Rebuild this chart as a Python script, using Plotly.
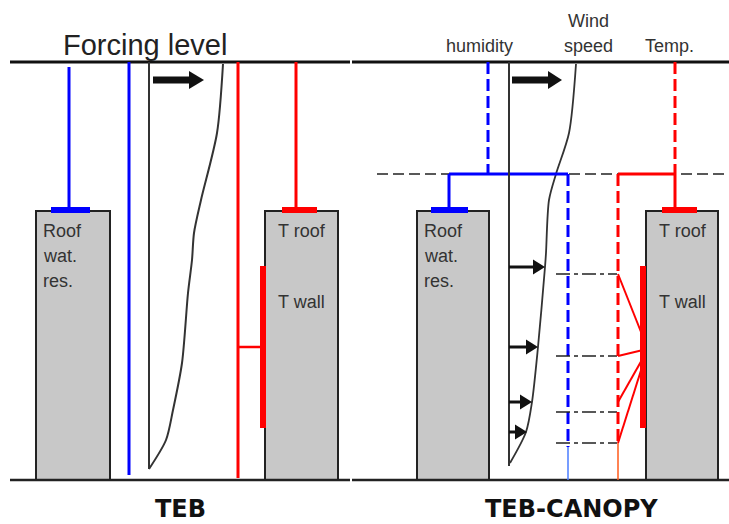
import plotly.graph_objects as go

W, H = 729, 524

# ---- data (diagram coordinates, px from top-left) ----
teb_wind_y = [64, 133, 200, 233, 260, 293, 363, 410, 440, 469]
teb_wind_x = [223, 217, 201, 194, 192, 188, 182, 173, 166, 149]
canopy_wind_y = [64, 133, 174, 200, 253, 267, 347, 402, 432, 463]
canopy_wind_x = [576, 569, 556, 549, 546, 545, 538, 532, 526, 510]

canopy_arrow_y = [267, 347, 402, 432]
canopy_arrow_tip = [545, 538, 532, 527]

canopy_level_y = [274, 356, 412, 443]
link_from_y = [274, 356, 402, 443]
link_to_y = [337, 350, 358, 364]

buildings = [(36, 110), (265, 338), (417, 489), (646, 718)]
ROOF, GROUND, FORCING, CANOPY_TOP = 211, 480, 62, 174

BLUE, RED, BLACK, GRAY = "#0000ff", "#ff0000", "#111111", "#c8c8c8"

shapes = []


def line(x0, y0, x1, y1, color, width, dash=None):
    d = dict(type="line", xref="x", yref="y", x0=x0, y0=y0, x1=x1, y1=y1,
             line=dict(color=color, width=width))
    if dash:
        d["line"]["dash"] = dash
    shapes.append(d)


def arrow(x0, x1, y, shaft, head_len, half):
    line(x0, y, x1 - head_len + 1, y, BLACK, shaft)
    shapes.append(dict(type="path", xref="x", yref="y",
                       path=f"M {x1-head_len},{y-half} L {x1},{y} L {x1-head_len},{y+half} Z",
                       fillcolor=BLACK, line=dict(width=0)))


# canopy top dashed level
line(377, CANOPY_TOP, 729, CANOPY_TOP, "#222222", 1.6, "11px,5px")

# buildings
for (a, b) in buildings:
    shapes.append(dict(type="rect", xref="x", yref="y", x0=a, x1=b, y0=ROOF, y1=GROUND,
                       fillcolor=GRAY, line=dict(color="#222222", width=2)))

# forcing and ground lines
line(10, FORCING, 350, FORCING, BLACK, 3)
line(352, FORCING, 729, FORCING, BLACK, 3)
line(10, GROUND, 350, GROUND, "#222222", 2.5)
line(352, GROUND, 729, GROUND, "#222222", 2.5)

# ---- TEB panel ----
line(69, 67, 69, ROOF, BLUE, 3)
line(51, ROOF - 1, 90, ROOF - 1, BLUE, 6)
line(129, FORCING, 129, 475, BLUE, 3)
line(149, FORCING, 149, 469, "#333333", 2)
line(238, FORCING, 238, 478, RED, 3)
line(238, 347, 262, 347, RED, 2.5)
line(263, 266, 263, 428, RED, 6)
line(296, FORCING, 296, ROOF, RED, 3)
line(282, ROOF - 1, 317, ROOF - 1, RED, 6)
arrow(153, 204, 80, 7, 15, 9)

# ---- TEB-CANOPY panel ----
line(488, FORCING, 488, CANOPY_TOP, BLUE, 3, "12px,5px")
line(449, CANOPY_TOP, 568, CANOPY_TOP, BLUE, 3)
line(449, CANOPY_TOP, 449, ROOF, BLUE, 3)
line(431, ROOF - 1, 468, ROOF - 1, BLUE, 6)
line(568, CANOPY_TOP, 568, 447, BLUE, 3, "12px,5px")
line(568, 447, 568, GROUND, "#4a7cff", 1.5)
line(509, FORCING, 509, 466, "#333333", 2)
arrow(512, 562, 80, 7, 14, 9)
for y, tip in zip(canopy_arrow_y, canopy_arrow_tip):
    arrow(509, tip, y, 3, 12, 7.5)
for y in canopy_level_y:
    line(556, y, 617, y, "#222222", 1.6, "14px,4px,4px,4px")
line(675, FORCING, 675, CANOPY_TOP, RED, 3, "12px,5px")
line(618, CANOPY_TOP, 675, CANOPY_TOP, RED, 3)
line(675, CANOPY_TOP, 675, ROOF, RED, 3)
line(662, ROOF - 1, 697, ROOF - 1, RED, 6)
line(618, CANOPY_TOP, 618, 443, RED, 3, "12px,5px")
line(618, 443, 618, GROUND, "#ff5a1a", 1.5)
for y0, y1 in zip(link_from_y, link_to_y):
    line(618, y0, 643, y1, RED, 2)
line(643, 266, 643, 428, RED, 6)

fig = go.Figure()
fig.add_trace(go.Scatter(x=teb_wind_x, y=teb_wind_y, mode="lines",
                         line=dict(color="#333333", width=2, shape="spline", smoothing=0.8),
                         hoverinfo="skip", showlegend=False))
fig.add_trace(go.Scatter(x=canopy_wind_x, y=canopy_wind_y, mode="lines",
                         line=dict(color="#333333", width=1.8, shape="spline", smoothing=0.8),
                         hoverinfo="skip", showlegend=False))

ann = []


def text(x, y, s, size=18, color="#333333", xanchor="left", family="Liberation Sans, Arial, sans-serif", bold=False):
    if bold:
        s = f"<b>{s}</b>"
    ann.append(dict(x=x, y=y, xref="x", yref="y", text=s, showarrow=False,
                    xanchor=xanchor, yanchor="middle",
                    font=dict(size=size, color=color, family=family)))


text(145, 45, "Forcing level", size=29, color="#222222", xanchor="center")
text(479, 46, "humidity", xanchor="center")
text(588, 21, "Wind", xanchor="center")
text(588, 46, "speed", xanchor="center")
text(669, 46, "Temp.", xanchor="center")
for bx in (41, 422):
    text(bx, 231, "Roof")
    text(bx, 256, "wat.")
    text(bx, 281, "res.")
for bx in (276, 657):
    text(bx, 231, "T roof")
    text(bx, 302, "T wall")
text(180, 509, "TEB", size=24, color="#111111", xanchor="center", family="DejaVu Sans", bold=True)
text(571, 509, "TEB-CANOPY", size=24, color="#111111", xanchor="center", family="DejaVu Sans", bold=True)

fig.update_layout(
    width=W, height=H, margin=dict(l=0, r=0, t=0, b=0),
    paper_bgcolor="white", plot_bgcolor="white",
    xaxis=dict(range=[0, W], visible=False, fixedrange=True),
    yaxis=dict(range=[H, 0], visible=False, fixedrange=True),
    shapes=shapes, annotations=ann, showlegend=False,
)
fig.write_html("out.html", config={"displayModeBar": False},
               post_script="document.body.style.margin='0';document.body.style.overflow='hidden';")
